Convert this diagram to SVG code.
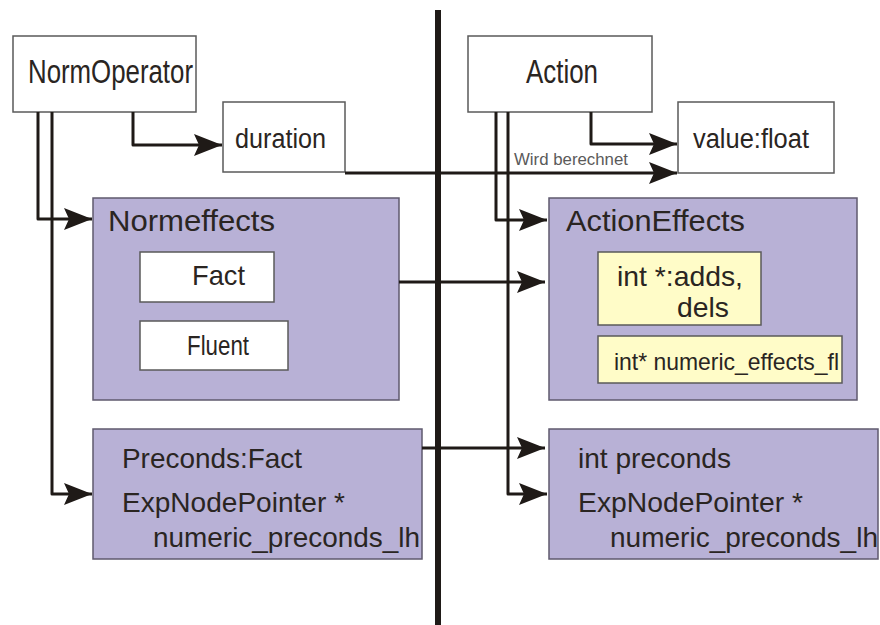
<svg xmlns="http://www.w3.org/2000/svg" width="880" height="625" viewBox="0 0 880 625">
  <style>
    .box { fill: #ffffff; stroke: #5a5a5a; stroke-width: 1.5; }
    .grp { fill: #b8b1d6; stroke: #5f5a6e; stroke-width: 1.5; }
    .fld { fill: #fffcc8; stroke: #5a5a5a; stroke-width: 1.5; }
    .t { font-family: "Liberation Sans", Arial, sans-serif; fill: #2a2522; }
    .lbl { font-family: "Liberation Sans", Arial, sans-serif; fill: #5a5a5a; }
    .c { fill: none; stroke: #1f1a17; stroke-width: 3; stroke-linejoin: round; }
  </style>
  <defs>
    <marker id="arrow" markerUnits="userSpaceOnUse" viewBox="0 0 28 22" refX="28" refY="11" markerWidth="28" markerHeight="22" orient="auto">
      <path d="M0,0 L28,11 L0,22 L5,11 Z" fill="#1f1a17"/>
    </marker>
  </defs>
  <rect width="880" height="625" fill="#ffffff"/>

  <!-- divider between the two sides -->
  <line x1="438" y1="10" x2="438" y2="625" stroke="#1f1a17" stroke-width="6"/>

  <g id="normoperator">
    <rect class="box" x="13" y="36" width="183" height="76"/>
    <text class="t" x="28" y="83" font-size="34" textLength="165" lengthAdjust="spacingAndGlyphs">NormOperator</text>
  </g>
  <g id="duration">
    <rect class="box" x="223" y="102" width="122" height="70"/>
    <text class="t" x="235" y="148" font-size="27" textLength="91" lengthAdjust="spacingAndGlyphs">duration</text>
  </g>
  <g id="action">
    <rect class="box" x="468" y="36" width="184" height="76"/>
    <text class="t" x="526" y="83" font-size="34" textLength="72" lengthAdjust="spacingAndGlyphs">Action</text>
  </g>
  <g id="valuefloat">
    <rect class="box" x="678" y="102" width="156" height="71"/>
    <text class="t" x="693" y="148" font-size="27" textLength="116" lengthAdjust="spacingAndGlyphs">value:float</text>
  </g>

  <g id="normeffects">
    <rect class="grp" x="93" y="198" width="306" height="202"/>
    <text class="t" x="108" y="231" font-size="29" textLength="167" lengthAdjust="spacingAndGlyphs">Normeffects</text>
    <g id="fact">
      <rect class="box" x="140" y="252" width="134" height="50"/>
      <text class="t" x="192" y="285" font-size="28" textLength="53" lengthAdjust="spacingAndGlyphs">Fact</text>
    </g>
    <g id="fluent">
      <rect class="box" x="140" y="321" width="148" height="49"/>
      <text class="t" x="187" y="355" font-size="27" textLength="62" lengthAdjust="spacingAndGlyphs">Fluent</text>
    </g>
  </g>

  <g id="actioneffects">
    <rect class="grp" x="549" y="198" width="308" height="202"/>
    <text class="t" x="566" y="231" font-size="29" textLength="179" lengthAdjust="spacingAndGlyphs">ActionEffects</text>
    <g id="addsdels">
      <rect class="fld" x="598" y="252" width="163" height="73"/>
      <text class="t" x="617" y="286" font-size="28" textLength="126" lengthAdjust="spacingAndGlyphs">int *:adds,</text>
      <text class="t" x="677" y="317" font-size="28" textLength="52" lengthAdjust="spacingAndGlyphs">dels</text>
    </g>
    <g id="numericeffects">
      <rect class="fld" x="598" y="336" width="244" height="47"/>
      <text class="t" x="614" y="370" font-size="24" textLength="225" lengthAdjust="spacingAndGlyphs">int* numeric_effects_fl</text>
    </g>
  </g>

  <g id="normpreconds">
    <rect class="grp" x="93" y="429" width="329" height="130"/>
    <text class="t" x="122" y="468" font-size="28" textLength="180" lengthAdjust="spacingAndGlyphs">Preconds:Fact</text>
    <text class="t" x="122" y="512" font-size="28" textLength="223" lengthAdjust="spacingAndGlyphs">ExpNodePointer *</text>
    <text class="t" x="153" y="547" font-size="28" textLength="267" lengthAdjust="spacingAndGlyphs">numeric_preconds_lh</text>
  </g>

  <g id="actionpreconds">
    <rect class="grp" x="549" y="429" width="329" height="130"/>
    <text class="t" x="578" y="468" font-size="28" textLength="153" lengthAdjust="spacingAndGlyphs">int preconds</text>
    <text class="t" x="578" y="512" font-size="28" textLength="225" lengthAdjust="spacingAndGlyphs">ExpNodePointer *</text>
    <text class="t" x="610" y="547" font-size="28" textLength="268" lengthAdjust="spacingAndGlyphs">numeric_preconds_lh</text>
  </g>

  <g id="connectors">
    <path class="c" d="M133,112 V145 H222" marker-end="url(#arrow)"/>
    <path class="c" d="M591,112 V144 H677" marker-end="url(#arrow)"/>
    <path class="c" d="M345,173 H677" marker-end="url(#arrow)"/>
    <text class="lbl" x="514" y="165" font-size="16" textLength="114" lengthAdjust="spacingAndGlyphs">Wird berechnet</text>
    <path class="c" d="M38,112 V219 H92" marker-end="url(#arrow)"/>
    <path class="c" d="M52,112 V494 H92" marker-end="url(#arrow)"/>
    <path class="c" d="M496,112 V220 H547" marker-end="url(#arrow)"/>
    <path class="c" d="M508,112 V494 H547" marker-end="url(#arrow)"/>
    <path class="c" d="M399,282 H545" marker-end="url(#arrow)"/>
    <path class="c" d="M422,448 H545" marker-end="url(#arrow)"/>
  </g>
</svg>
